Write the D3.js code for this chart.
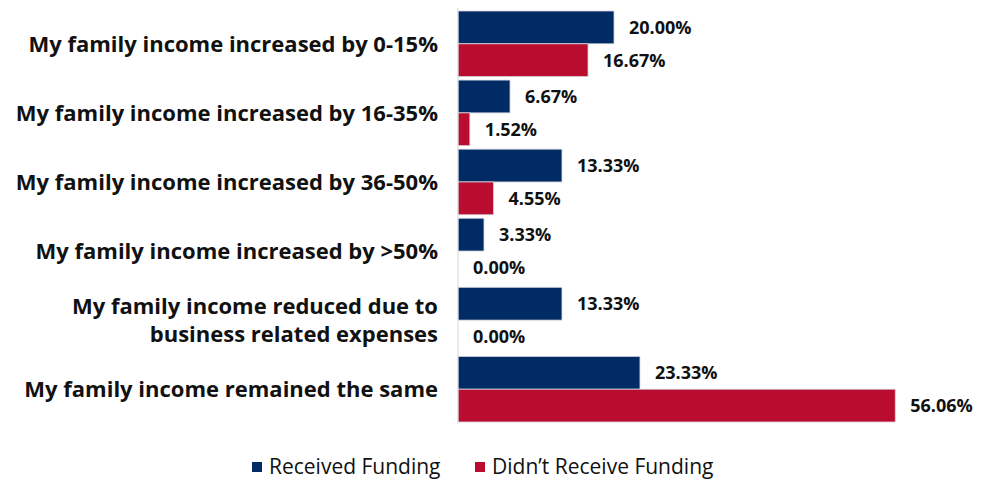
<!DOCTYPE html>
<html>
<head>
<meta charset="utf-8">
<script src="https://cdn.jsdelivr.net/npm/d3@7"></script>
<style>
  body { margin: 0; background: #fff; }
  text { font-family: "Open Sans", Lato, sans-serif; fill: #111; }
</style>
</head>
<body>
<svg id="chart" width="987" height="481"></svg>
<script>
// categories (each entry = lines of the label)
var categories = [
  ["My family income increased by 0-15%"],
  ["My family income increased by 16-35%"],
  ["My family income increased by 36-50%"],
  ["My family income increased by >50%"],
  ["My family income reduced due to", "business related expenses"],
  ["My family income remained the same"]
];
var seriesNames = ["Received Funding", "Didn\u2019t Receive Funding"];
var received = [20.00, 6.67, 13.33, 3.33, 13.33, 23.33];
var notReceived = [16.67, 1.52, 4.55, 0.00, 0.00, 56.06];

var colors = ["#002B65", "#BA0C2F"];

var svg = d3.select("#chart"),
    axisX = 458;

var data = categories.map(function(c, i) {
  return { cat: c, vals: [received[i], notReceived[i]] };
});

var y = d3.scaleBand()
    .domain(d3.range(categories.length))
    .range([11, 422])
    .paddingInner(0.05);

var ySub = d3.scaleBand()
    .domain([0, 1])
    .range([0, y.bandwidth()]);

var x = d3.scaleLinear()
    .domain([0, 60])
    .range([axisX, axisX + 468]);

var g = svg.selectAll(".grp")
    .data(data)
    .enter().append("g")
    .attr("class", "grp")
    .attr("transform", function(d, i) { return "translate(0," + y(i) + ")"; });

/* bars */
g.selectAll("rect")
    .data(function(d) { return d.vals; })
    .enter().append("rect")
    .attr("x", x(0))
    .attr("y", function(d, j) { return ySub(j); })
    .attr("width", function(d) { return x(d) - x(0); })
    .attr("height", ySub.bandwidth())
    .attr("fill", function(d, j) { return colors[j]; })
    .attr("stroke", function(d) { return d > 0 ? "#d8d8e0" : "none"; })
    .attr("stroke-width", 0.8);

/* value labels */
g.selectAll(".val")
    .data(function(d) { return d.vals; })
    .enter().append("text")
    .attr("class", "val")
    .attr("x", function(d) { return x(d) + 15; })
    .attr("y", function(d, j) { return ySub(j) + ySub.bandwidth() / 2; })
    .attr("dy", "0.35em")
    .style("font-size", "18px")
    .style("font-weight", "bold")
    .text(function(d) { return d.toFixed(2) + "%"; });

/* category labels */
var lbl = g.append("text")
    .attr("text-anchor", "end")
    .style("font-size", "22px")
    .style("font-weight", "bold");

lbl.selectAll("tspan")
    .data(function(d) { return d.cat; })
    .enter().append("tspan")
    .attr("x", 438)
    .attr("y", function(d, k, nodes) {
      var n = nodes.length;
      return y.bandwidth() / 2 + (k - (n - 1) / 2) * 28;
    })
    .attr("dy", "0.35em")
    .text(function(d) { return d; });

/* axis line */
svg.append("line")
    .attr("x1", axisX).attr("x2", axisX)
    .attr("y1", 8).attr("y2", 424)
    .attr("stroke", "#d9d9d9")
    .attr("stroke-width", 1);

/* legend */
var legX = [252, 475];
var leg = svg.selectAll(".leg")
    .data(seriesNames)
    .enter().append("g")
    .attr("class", "leg")
    .attr("transform", function(d, i) { return "translate(" + legX[i] + ",467)"; });

leg.append("rect")
    .attr("x", 0).attr("y", -5)
    .attr("width", 10).attr("height", 10)
    .attr("fill", function(d, i) { return colors[i]; });

leg.append("text")
    .attr("x", 17)
    .attr("dy", "0.35em")
    .style("font-size", "21px")
    .text(function(d) { return d; });
</script>
</body>
</html>
